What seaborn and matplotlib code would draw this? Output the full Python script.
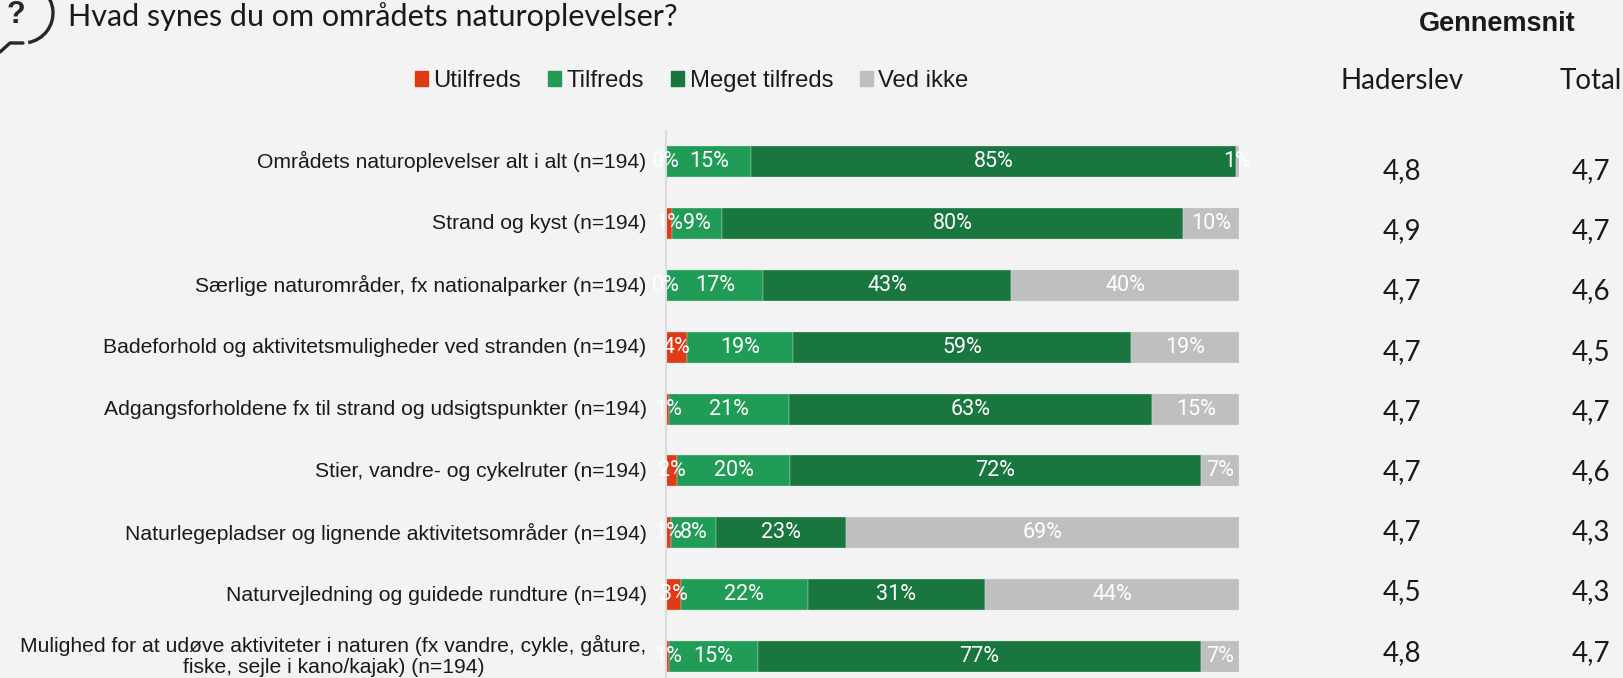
#------------------------ Naturoplevelser ------------------------#
#Module
import numpy as np
import pandas as pd
import matplotlib
matplotlib.use('Agg')
import matplotlib.pyplot as plt
from matplotlib.patches import Arc, Patch
from matplotlib.transforms import ScaledTranslation
import seaborn as sns

#----------- Daten -----------#
categories = ['Områdets naturoplevelser alt i alt (n=194)',
              'Strand og kyst (n=194)',
              'Særlige naturområder, fx nationalparker (n=194)',
              'Badeforhold og aktivitetsmuligheder ved stranden (n=194)',
              'Adgangsforholdene fx til strand og udsigtspunkter (n=194)',
              'Stier, vandre- og cykelruter (n=194)',
              'Naturlegepladser og lignende aktivitetsområder (n=194)',
              'Naturvejledning og guidede rundture (n=194)',
              'Mulighed for at udøve aktiviteter i naturen (fx vandre, cykle, gåture,\nfiske, sejle i kano/kajak) (n=194)']
utilfreds = [0.0, 1.0, 0.0, 3.6, 0.6, 2.0, 0.9, 2.6, 0.6]
tilfreds = [14.9, 8.8, 17.0, 18.6, 20.9, 19.6, 7.8, 22.1, 15.4]
meget_tilfreds = [84.6, 80.4, 43.2, 58.9, 63.4, 71.8, 22.7, 31.0, 77.4]
ved_ikke = [0.55, 9.8, 39.8, 18.9, 15.1, 6.6, 68.6, 44.3, 6.6]
series_names = ['Utilfreds', 'Tilfreds', 'Meget tilfreds', 'Ved ikke']
snit_haderslev = ['4,8', '4,9', '4,7', '4,7', '4,7', '4,7', '4,7', '4,5', '4,8']
snit_total = ['4,7', '4,7', '4,6', '4,5', '4,7', '4,6', '4,3', '4,3', '4,7']
farver = ['#e03a16', '#219c56', '#1a763f', '#bfbfbf']

#----------- Figur -----------#
sns.set_theme(style='white', rc={'axes.facecolor': '#f3f3f3', 'figure.facecolor': '#f3f3f3'})
plt.rcParams['font.family'] = ['Liberation Sans', 'DejaVu Sans']
W, H = 1624, 678
fig = plt.figure(figsize=(W/100, H/100), dpi=100)
ax = fig.add_axes([666/W, 0, 573/W, (H-130.5)/H])

df = pd.DataFrame({'kategori': categories, 'Utilfreds': utilfreds, 'Tilfreds': tilfreds,
                   'Meget tilfreds': meget_tilfreds, 'Ved ikke': ved_ikke})
venstre = np.zeros(len(df))
for navn, farve in zip(series_names, farver):
    sns.barplot(data=df, x=navn, y='kategori', left=venstre, color=farve, saturation=1, width=0.5,
                edgecolor='#d5e5da', linewidth=0.25, ax=ax)
    venstre = venstre + df[navn].values

#Datalabels
for container, navn in zip(ax.containers, series_names):
    labels = ['%d%%' % int(v + 0.5) for v in df[navn]]
    ax.bar_label(container, labels=labels, label_type='center', color='white',
                 family='Roboto', fontsize=15.5)

ax.set_xlim(0, 100)
ax.set_ylim(8.345, -0.5)
ax.set_xlabel('')
ax.set_ylabel('')
ax.set_xticks([])
ax.tick_params(axis='y', length=0, pad=14, labelsize=15.2, labelcolor='#1a1a1a')
for i, label in enumerate(ax.get_yticklabels()):
    #Die letzte Beschriftung hat zwei Zeilen und muss ganz ins Bild passen
    skift = 4 if i == len(categories) - 1 else 1.5
    label.set_multialignment('center')
    label.set_linespacing(1.15)
    label.set_transform(label.get_transform() + ScaledTranslation(0, skift/100, fig.dpi_scale_trans))
sns.despine(ax=ax, left=False, bottom=True)
ax.spines['left'].set_color('#dcdcdc')
ax.spines['left'].set_linewidth(1.5)

#Legende
handles = [Patch(color=f, label=n) for f, n in zip(farver, series_names)]
fig.legend(handles=handles, loc='center', bbox_to_anchor=(692/W, 1-81/H), ncol=4, frameon=False,
           fontsize=17.2, handlelength=0.54, handleheight=0.54, handletextpad=0.22, columnspacing=1.14,
           labelcolor='#1a1a1a')

#Overlay in Pixelkoordinaten für Kopf und Spalten
top = fig.add_axes([0, 0, 1, 1], facecolor='none')
top.set_xlim(0, W)
top.set_ylim(H, 0)
top.axis('off')
top.text(68, 17, 'Hvad synes du om områdets naturoplevelser?', family='Lato',
         fontsize=22, color='#1a1a1a', ha='left', va='center')
top.text(1497, 24, 'Gennemsnit', fontweight='bold', fontsize=19.5, color='#1a1a1a', ha='center', va='center')
top.text(1402, 81, 'Haderslev', family='Lato', fontsize=20, color='#1a1a1a', ha='center', va='center')
top.text(1591, 81, 'Total', family='Lato', fontsize=20, color='#1a1a1a', ha='center', va='center')
for i in range(len(categories)):
    ypos = 171 + i*60.2
    top.text(1402, ypos, snit_haderslev[i], family='Lato', fontsize=20, color='#1a1a1a', ha='center', va='center')
    top.text(1591, ypos, snit_total[i], family='Lato', fontsize=20, color='#1a1a1a', ha='center', va='center')

#Ikon
top.add_patch(Arc((23, 13), 60, 60, theta1=-90, theta2=80, color='#22282b', lw=2.4))
top.plot([23, 10, 0], [43, 43, 52], color='#22282b', lw=2.4)
top.text(16, 15, '?', fontweight='bold', fontsize=22, color='#22282b', ha='center', va='center')

fig.savefig('out.png', dpi=100)
plt.close()
